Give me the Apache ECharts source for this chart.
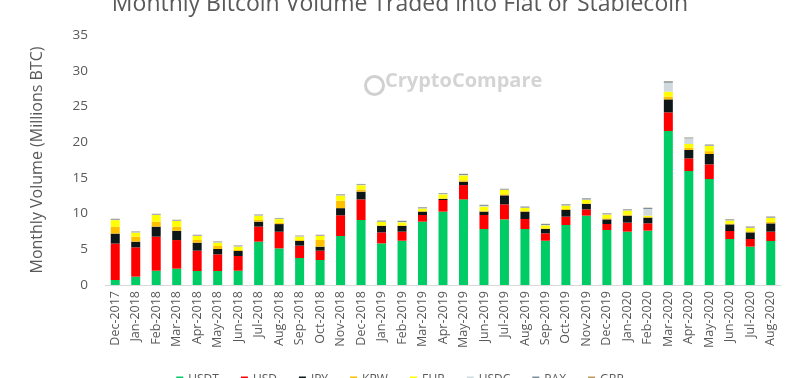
<!DOCTYPE html>
<html><head><meta charset="utf-8">
<script src="https://cdn.jsdelivr.net/npm/echarts@6/dist/echarts.min.js"></script>
<style>html,body{margin:0;padding:0;background:#fff}#c{width:800px;height:378px}</style>
</head><body><div id="c"></div>
<script>
var categories = ["Dec-2017","Jan-2018","Feb-2018","Mar-2018","Apr-2018","May-2018","Jun-2018","Jul-2018","Aug-2018","Sep-2018","Oct-2018","Nov-2018","Dec-2018","Jan-2019","Feb-2019","Mar-2019","Apr-2019","May-2019","Jun-2019","Jul-2019","Aug-2019","Sep-2019","Oct-2019","Nov-2019","Dec-2019","Jan-2020","Feb-2020","Mar-2020","Apr-2020","May-2020","Jun-2020","Jul-2020","Aug-2020"];
var usdt = [0.7,1.17,2.0,2.29,1.96,1.96,2.0,6.07,5.13,3.78,3.5,6.86,9.1,5.83,6.2,8.87,10.27,11.99,7.84,9.19,7.84,6.2,8.4,9.71,7.7,7.47,7.61,21.56,15.96,14.84,6.44,5.37,6.16];
var usd = [5.1,4.1,4.77,4.0,2.85,2.33,2.06,2.1,2.33,1.73,1.31,2.9,2.89,1.54,1.27,0.93,1.63,2.0,1.96,2.1,1.4,1.03,1.17,0.88,0.84,1.26,1.02,2.61,1.77,2.05,1.12,1.07,1.31];
var jpy = [1.4,0.8,1.4,1.3,1.12,0.75,0.7,0.7,1.07,0.65,0.56,1.0,1.08,0.89,0.79,0.47,0.14,0.47,0.47,1.26,1.03,0.61,0.93,0.75,0.65,0.98,0.8,1.82,1.17,1.45,0.93,0.93,1.16];
var krw = [0.95,0.7,0.7,0.57,0.37,0.42,0.14,0.23,0.19,0.14,0.93,1.05,0.3,0.1,0.1,0.1,0.1,0.2,0.15,0.15,0.1,0.1,0.15,0.1,0.15,0.15,0.08,0.4,0.3,0.4,0.12,0.15,0.2];
var eur = [0.93,0.56,0.93,0.8,0.56,0.47,0.47,0.6,0.51,0.47,0.56,0.7,0.6,0.46,0.41,0.32,0.55,0.69,0.55,0.6,0.41,0.41,0.45,0.46,0.51,0.55,0.2,0.67,0.54,0.72,0.4,0.46,0.55];
var usdc = [0.05,0.05,0.05,0.05,0.05,0.05,0.05,0.05,0.05,0.05,0.05,0.05,0.05,0.05,0.05,0.05,0.05,0.05,0.1,0.05,0.05,0.05,0.05,0.08,0.05,0.05,0.93,1.26,0.79,0.05,0.05,0.05,0.05];
var pax = [0.12,0.1,0.1,0.1,0.1,0.1,0.1,0.1,0.08,0.08,0.1,0.12,0.1,0.13,0.15,0.13,0.1,0.14,0.13,0.1,0.14,0.14,0.14,0.15,0.13,0.13,0.15,0.2,0.1,0.14,0.13,0.14,0.14];
var gbp = [0.03,0.03,0.03,0.03,0.03,0.03,0.03,0.03,0.03,0.03,0.03,0.03,0.03,0.03,0.03,0.03,0.03,0.03,0.03,0.03,0.03,0.03,0.03,0.03,0.03,0.03,0.04,0.04,0.04,0.03,0.03,0.03,0.03];
var seriesNames = ["USDT","USD","JPY","KRW","EUR","USDC","PAX","GBP"];
var seriesValues = [usdt,usd,jpy,krw,eur,usdc,pax,gbp];
var seriesColors = ["#00CC66","#FF0000","#0D1718","#FFC000","#FFFF00","#D0D9DE","#7F8F99","#B89B5E"];
var yTicks = [0,5,10,15,20,25,30,35];

var chart = echarts.init(document.getElementById('c'));
var font = "'Open Sans', 'Noto Sans', sans-serif";
chart.setOption({
  animation:false,
  backgroundColor:'#fff',
  title:{text:'Monthly Bitcoin Volume Traded into Fiat or Stablecoin',left:'center',top:-12,
    textStyle:{fontFamily:font,fontSize:23,fontWeight:'normal',color:'#595959'}},
  legend:{data:seriesNames,bottom:-13,left:'center',itemWidth:7,itemHeight:7,itemGap:22,icon:'rect',
    textStyle:{fontFamily:font,fontSize:12,color:'#595959'}},
  grid:{left:105,right:19,top:35,bottom:93,containLabel:false},
  xAxis:{type:'category',data:categories,
    axisLine:{lineStyle:{color:'#D9D9D9',width:1}},axisTick:{show:false},
    axisLabel:{rotate:90,interval:0,fontFamily:font,fontSize:12.5,color:'#595959',margin:6}},
  yAxis:{type:'value',min:0,max:35,interval:5,
    name:'Monthly Volume (Millions BTC)',nameLocation:'middle',nameGap:60,
    nameTextStyle:{fontFamily:font,fontSize:16,color:'#595959'},
    axisLine:{show:false},axisTick:{show:false},splitLine:{show:false},
    axisLabel:{fontFamily:font,fontSize:13.5,color:'#595959',margin:17,
      formatter:function(v){return yTicks.indexOf(v)>=0?String(v):'';}}},
  graphic:[
    {type:'circle',left:363,top:74,shape:{r:9},style:{fill:'none',stroke:'#D0D0D0',lineWidth:3}},
    {type:'text',left:385,top:71,style:{text:'CryptoCompare',fontFamily:font,fontSize:20,fontWeight:'bold',fill:'#D4D4D4'}}
  ],
  series:seriesNames.map(function(n,i){
    return {name:n,type:'bar',stack:'total',data:seriesValues[i],barWidth:9,
      itemStyle:{color:seriesColors[i]}};
  })
});
</script></body></html>
